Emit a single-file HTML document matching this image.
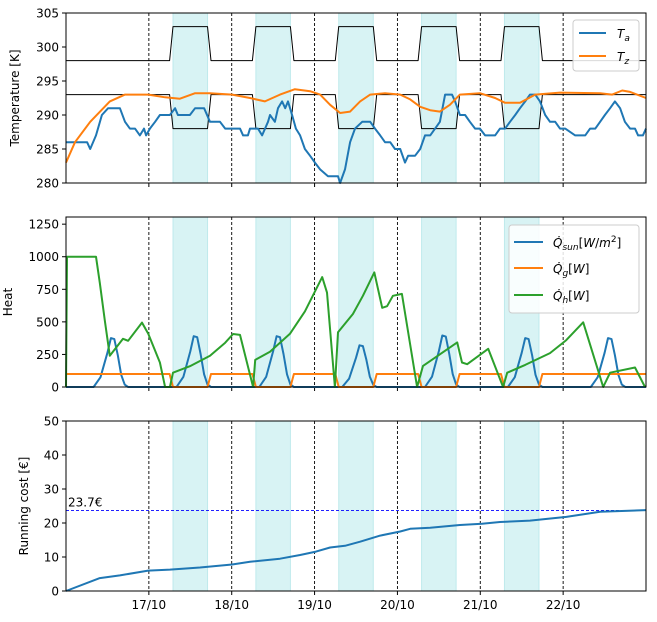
<!DOCTYPE html>
<html><head><meta charset="utf-8"><style>
body{margin:0;background:#fff;font-family:"DejaVu Sans","Liberation Sans",sans-serif}
svg text{font-family:"DejaVu Sans","Liberation Sans",sans-serif;font-size:12px;fill:#000}
</style></head><body>
<svg id="chart" width="657" height="618" xmlns="http://www.w3.org/2000/svg"></svg>
<script>
// ---- data (time in hours from 16/10 00:00) ----
const dayLabels=["17/10","18/10","19/10","20/10","21/10","22/10"];
const workDays=[1,2,3,4,5];
const tempTicks=[280,285,290,295,300,305];
const heatTicks=[0,250,500,750,1000,1250];
const costTicks=[0,10,20,30,40,50];
const taT=[0,6.1,7,8.7,10.4,12.2,13.3,15.6,17.1,18.5,20,21.4,22.6,23.2,24.3,25.8,27.2,30.1,31.6,32.4,35.9,37.4,40,41.7,44.6,46.1,50.4,51.3,52.7,53.3,55.6,56.8,58.5,59.1,60.5,61.4,62.6,63.5,64.3,65.5,66.6,67.8,69.2,70.7,72.1,73.6,75.9,78.8,79.4,80.8,82.3,83.7,85.8,88.1,89.5,91,92.4,93.9,95.3,96.8,98.2,99.1,101.1,102.6,104,105.5,106.9,108.3,109.8,111.8,112.7,114.1,115.6,117,118.5,119.9,121.4,122.8,124.3,125.7,127.2,128.6,130.1,131.5,133,134.4,135.9,137.3,138.8,140.2,141.7,143.1,144.6,147.5,150.4,151.8,153.3,154.7,156.1,157.6,159,160.5,161.9,163.4,164.8,165.7,167.1,168];
const taV=[286,286,285,287,290,291,291,291,289,288,288,287,288,287,288,289,290,290,291,290,290,291,291,289,289,288,288,287,287,288,288,287,289,290,289,291,292,291,292,290,288,287,285,284,283,282,281,281,280,282,286,288,289,289,288,287,286,286,285,285,283,284,284,285,287,287,288,289,293,293,292,290,290,289,288,288,287,287,287,288,288,289,290,291,292,293,293,292,290,289,289,288,288,287,287,288,288,289,290,291,292,291,289,288,288,287,287,288];
const tzT=[0,2.6,7,12.7,17.1,23.8,28.7,33,37.4,41.7,48.1,53.3,57.6,62,66.3,70.7,73.6,76.5,79.4,82.3,85.2,88.1,92.4,96.8,99.7,102.6,105.5,108.3,111.2,114.1,119.9,124.3,127.2,131.5,135.9,143.1,154.7,158.2,161.1,163.4,168];
const tzV=[283,286,289,292,293,293,292.6,292.4,293.2,293.2,293,292.5,292,293,293.8,293.5,293,291.5,290.3,290.5,292,293,293.2,293,292.3,291.2,290.7,290.5,291.5,293,293.2,292.5,291.8,291.8,293,293.3,293.2,293,293.6,293.4,292.5];
const sunT=[0,8,10,12,13,14,15,16,17,18,24];
const sunPeaks=[375,390,390,320,395,375,375];
const hT=[0,0.3,8.7,9.8,11.3,12.7,16.5,18,22,23.8,27.2,28.7,30.1,31,35.9,41.7,46.1,48.4,50.4,54.2,54.8,59.1,64.9,69.2,74.2,75.6,77.9,78.8,83.1,86,89.3,91.6,93,94.7,97.3,101.7,103.4,113.3,114.7,116.2,122.3,126.6,127.8,133,140.2,144.9,149.8,155.6,157.6,164.8,167.7];
const hV=[0,1000,1000,800,500,240,370,355,494,410,188,0,0,110,160,240,340,407,400,0,208,270,410,580,844,725,0,420,560,700,880,608,620,700,715,0,162,342,188,175,293,0,110,170,260,360,497,0,110,150,0];
const costT=[0,9.8,15.6,23.8,30.1,38.8,48.1,53.3,62,67.8,72.4,76.5,80.8,85.2,91,96.8,99.7,105.5,114.1,120.5,125.7,134.4,144.9,154.7,168];
const costV=[0,3.8,4.6,6,6.3,6.9,7.8,8.6,9.5,10.6,11.6,12.8,13.3,14.5,16.3,17.5,18.3,18.6,19.4,19.8,20.3,20.7,21.8,23.3,23.8];
const finalCost=23.7;

const svg=document.getElementById('chart');
const NS='http://www.w3.org/2000/svg';
function mk(tag,at,parent){const e=document.createElementNS(NS,tag);for(const k in at)e.setAttribute(k,at[k]);(parent||svg).appendChild(e);return e;}
const X0=66,X1=646,H0=0,H1=168;
const x=h=>X0+(h-H0)*(X1-X0)/(H1-H0);
const panels=[{top:13,bot:183,min:280,max:305},{top:217,bot:387,min:0,max:1305},{top:421,bot:591,min:0,max:50}];
const yf=p=>v=>p.bot-(v-p.min)*(p.bot-p.top)/(p.max-p.min);
function path(ts,vs,yF,color,name,w){
  let d='';ts.forEach((t,i)=>{d+=(i?'L':'M')+x(t).toFixed(1)+','+yF(vs[i]).toFixed(1);});
  const p=mk('path',{d,fill:'none',stroke:color,'stroke-width':w||2,'stroke-linejoin':'round'});
  
  
  return p;
}
function txt(s,at){const t=mk('text',at);t.textContent=s;return t;}

panels.forEach((p,pi)=>{
  workDays.forEach(d=>{
    const r=mk('rect',{x:x(24*d+7),y:p.top,width:x(24*d+17)-x(24*d+7),height:p.bot-p.top,fill:'#d8f3f4',stroke:'#bfeaec','stroke-width':1});
    
    
  });
  dayLabels.forEach((lab,i)=>{
    const xx=x(24*(i+1));
    const l=mk('line',{x1:xx,x2:xx,y1:p.top,y2:p.bot,stroke:'#000','stroke-width':0.9,'stroke-dasharray':'3,2'});
    
    
    mk('line',{x1:xx,x2:xx,y1:p.bot,y2:p.bot+4,stroke:'#000'});
    if(pi===2){const t=txt(lab,{x:xx,y:p.bot+18,'text-anchor':'middle'});
      
      }
  });
  const ticks=[tempTicks,heatTicks,costTicks][pi];
  const Y=yf(p);
  ticks.forEach(v=>{
    mk('line',{x1:X0-4,x2:X0,y1:Y(v),y2:Y(v),stroke:'#000'});
    const t=txt(String(v),{x:X0-7,y:Y(v)+4.5,'text-anchor':'end'});
    
    
  });
});

const P1=yf(panels[0]);
function bound(base,work){const ts=[0],vs=[base];workDays.forEach(d=>{ts.push(24*d+6,24*d+7,24*d+17,24*d+18);vs.push(base,work,work,base);});ts.push(168);vs.push(base);return [ts,vs];}
let b=bound(298,303);path(b[0],b[1],P1,'#000','upper-comfort-bound',1);
b=bound(293,288);path(b[0],b[1],P1,'#000','lower-comfort-bound',1);
path(taT,taV,P1,'#1f77b4','ambient-temp-line');
path(tzT,tzV,P1,'#ff7f0e','zone-temp-line');

const P2=yf(panels[1]);
const sT=[],sV=[];
sunPeaks.forEach((pk,d)=>{sunT.forEach((t,i)=>{if(i===sunT.length-1)return;sT.push(24*d+t);const f=[0,0,0.2,0.7,1,0.98,0.65,0.25,0.05,0][i];sV.push(pk*f);});});
sT.push(168);sV.push(0);
path(sT,sV,P2,'#1f77b4','solar-gain-line');
const gTs=[],gVs=[];
gTs.push(0);gVs.push(100);
workDays.forEach(d=>{gTs.push(24*d+6,24*d+7,24*d+17,24*d+18);gVs.push(100,0,0,100);});
gTs.push(168);gVs.push(100);
path(gTs,gVs,P2,'#ff7f0e','internal-gain-line');
path(hT,hV,P2,'#2ca02c','heating-power-line');

const P3=yf(panels[2]);
const dl=mk('line',{x1:X0,x2:X1,y1:P3(finalCost),y2:P3(finalCost),stroke:'#0000ff','stroke-width':0.8,'stroke-dasharray':'3,2'});


const fl=txt(finalCost+'€',{x:68,y:P3(finalCost)-4});


path(costT,costV,P3,'#1f77b4','running-cost-line');

panels.forEach(p=>{const r=mk('rect',{x:X0,y:p.top,width:X1-X0,height:p.bot-p.top,fill:'none',stroke:'#000','stroke-width':1});
  
  });
</script>
<svg style="position:absolute;left:0;top:0" width="657" height="618" xmlns="http://www.w3.org/2000/svg">
<text transform="translate(19,98) rotate(-90)" text-anchor="middle" font-size="13">Temperature [K]</text>
<text transform="translate(12,302) rotate(-90)" text-anchor="middle" font-size="13">Heat</text>
<text transform="translate(28,506) rotate(-90)" text-anchor="middle" font-size="13">Running cost [€]</text>
<g>
<rect x="573" y="20" width="66" height="51" rx="3" fill="#fff" fill-opacity="0.85" stroke="#ccc"/>
<line x1="579" y1="33" x2="606" y2="33" stroke="#1f77b4" stroke-width="2"/>
<text x="617" y="38" font-style="italic" font-size="13">T<tspan font-size="9" dy="3">a</tspan></text>
<line x1="579" y1="56" x2="606" y2="56" stroke="#ff7f0e" stroke-width="2"/>
<text x="617" y="61" font-style="italic" font-size="13">T<tspan font-size="9" dy="3">z</tspan></text>
</g>
<g>
<rect x="509" y="225" width="130" height="88" rx="3" fill="#fff" fill-opacity="0.85" stroke="#ccc"/>
<line x1="514" y1="242" x2="543" y2="242" stroke="#1f77b4" stroke-width="2"/>
<text x="553" y="247" font-size="13"><tspan font-style="italic">Q̇</tspan><tspan font-size="9" dy="3" font-style="italic">sun</tspan><tspan dy="-3">[</tspan><tspan font-style="italic">W</tspan>/<tspan font-style="italic">m</tspan><tspan font-size="9" dy="-5">2</tspan><tspan dy="5">]</tspan></text>
<line x1="514" y1="268" x2="543" y2="268" stroke="#ff7f0e" stroke-width="2"/>
<text x="553" y="273" font-size="13"><tspan font-style="italic">Q̇</tspan><tspan font-size="9" dy="3" font-style="italic">g</tspan><tspan dy="-3">[</tspan><tspan font-style="italic">W</tspan>]</text>
<line x1="514" y1="295" x2="543" y2="295" stroke="#2ca02c" stroke-width="2"/>
<text x="553" y="300" font-size="13"><tspan font-style="italic">Q̇</tspan><tspan font-size="9" dy="3" font-style="italic">h</tspan><tspan dy="-3">[</tspan><tspan font-style="italic">W</tspan>]</text>
</g>
</svg>
</body></html>
